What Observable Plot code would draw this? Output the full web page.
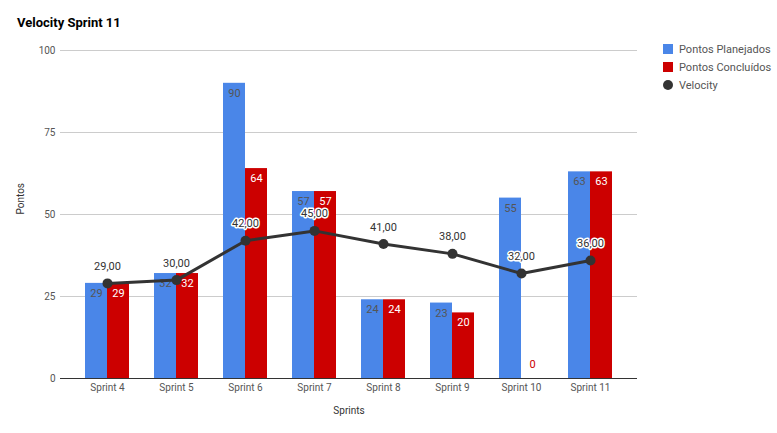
<!DOCTYPE html>
<html>
<head>
<meta charset="utf-8">
<script src="https://cdn.jsdelivr.net/npm/d3@7"></script>
<script src="https://cdn.jsdelivr.net/npm/@observablehq/plot@0.6"></script>
<style>
  body { margin: 0; background: #fff; font-family: Roboto, sans-serif; }
  #wrap { position: relative; width: 777px; height: 433px; overflow: hidden; }
  #title { height: 40px; box-sizing: border-box; padding: 16px 0 0 17px; font: bold 13px/14px Roboto, sans-serif; color: #000; }
  #legend { position: absolute; left: 663px; top: 40px; font: 11px Roboto, sans-serif; color: #555; }
  .row { display: flex; align-items: center; height: 18px; }
  .sw { width: 10px; height: 10px; margin-right: 6px; }
  .dot { border-radius: 50%; }
</style>
</head>
<body>
<div id="wrap">
  <div id="title">Velocity Sprint 11</div>
  <div id="chart"></div>
  <div id="legend"></div>
</div>
<script>
const sprints = ["Sprint 4", "Sprint 5", "Sprint 6", "Sprint 7", "Sprint 8", "Sprint 9", "Sprint 10", "Sprint 11"];
const planejados = [29, 32, 90, 57, 24, 23, 55, 63];
const concluidos = [29, 32, 64, 57, 24, 20, 0, 63];
const velocity = [29, 30, 42, 45, 41, 38, 32, 36];
const yTicks = [0, 25, 50, 75, 100];
const seriesNames = ["Pontos Planejados", "Pontos Concluídos", "Velocity"];
const colors = ["#4a86e8", "#cc0000", "#333333"];

const rows = sprints.map((s, i) => ({sprint: s, plan: planejados[i], done: concluidos[i], vel: velocity[i]}));
const fmt = v => v.toFixed(2).replace(".", ",");

const chart = Plot.plot({
  width: 777,
  height: 393,
  marginTop: 10,
  marginBottom: 55,
  marginLeft: 60,
  marginRight: 140,
  style: {fontFamily: "Roboto, sans-serif", fontSize: "10px", color: "#555", background: "#fff"},
  x: {domain: sprints, padding: 0.36, label: null},
  y: {domain: [0, 100], label: null},
  marks: [
    Plot.gridY(yTicks, {stroke: "#cccccc", strokeOpacity: 1}),
    Plot.axisY(yTicks, {tickSize: 0, tickPadding: 5, label: null, fill: "#555"}),
    Plot.axisX({tickSize: 0, tickPadding: 5, label: null, fill: "#555"}),
    Plot.barY(rows, {x: "sprint", y: "plan", fill: colors[0], insetRight: 22, insetLeft: 0}),
    Plot.barY(rows, {x: "sprint", y: "done", fill: colors[1], insetLeft: 22, insetRight: 0}),
    Plot.ruleY([0], {stroke: "#333"}),
    Plot.text(rows, {x: "sprint", y: "plan", text: d => String(d.plan), dx: -11, dy: 10, fill: "#555", fontSize: 11}),
    Plot.text(rows.filter(d => d.done > 0), {x: "sprint", y: "done", text: d => String(d.done), dx: 11, dy: 10, fill: "#fff", fontSize: 11}),
    Plot.text(rows.filter(d => d.done === 0), {x: "sprint", y: "done", text: d => String(d.done), dx: 11, dy: -14, fill: colors[1], fontSize: 11}),
    Plot.line(rows, {x: "sprint", y: "vel", stroke: colors[2], strokeWidth: 3}),
    Plot.dot(rows, {x: "sprint", y: "vel", r: 5, fill: colors[2]}),
    Plot.text(rows, {x: "sprint", y: "vel", text: d => fmt(d.vel), dy: -17, fill: "#333", stroke: "#fff", strokeWidth: 3, fontSize: 11}),
    Plot.text(["Sprints"], {frameAnchor: "bottom", dy: 35, fill: "#333", fontSize: 10}),
    Plot.text(["Pontos"], {frameAnchor: "left", dx: -40, rotate: -90, fill: "#333", fontSize: 10})
  ]
});
document.getElementById("chart").appendChild(chart);

const legend = document.getElementById("legend");
seriesNames.forEach((n, i) => {
  const r = document.createElement("div");
  r.className = "row";
  const sw = document.createElement("div");
  sw.className = "sw" + (i === 2 ? " dot" : "");
  sw.style.background = colors[i];
  r.appendChild(sw);
  const t = document.createElement("span");
  t.textContent = n;
  r.appendChild(t);
  legend.appendChild(r);
});
</script>
</body>
</html>
